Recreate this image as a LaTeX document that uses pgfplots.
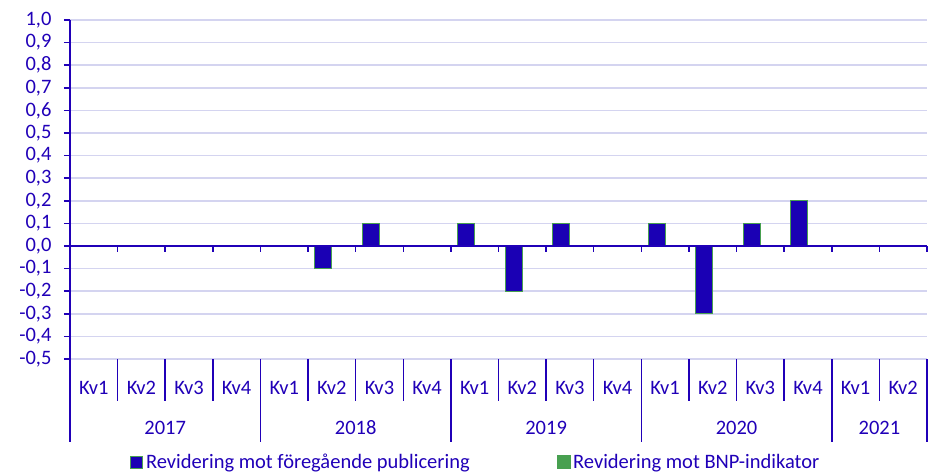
\documentclass[border=0pt]{standalone}
\usepackage{fontspec}
\setmainfont{Carlito}
\usepackage{pgfplots}
\pgfplotsset{compat=1.18}
\definecolor{txtblue}{RGB}{32,0,184}
\definecolor{barblue}{RGB}{26,0,180}
\definecolor{bargreen}{RGB}{72,160,80}
\definecolor{gridc}{RGB}{212,212,240}

\begin{document}
\begin{tikzpicture}[font=\fontsize{20.5}{24}\selectfont, text=txtblue]
\path[use as bounding box] (-70pt,-113pt) rectangle (865pt,359pt);
\begin{axis}[at={(0,0)}, anchor=south west,
  scale only axis, width=857pt, height=339pt,
  xmin=-0.5, xmax=17.5, ymin=-0.5, ymax=1.0,
  axis x line=none, axis y line*=left,
  ytick={-0.5,-0.4,-0.3,-0.2,-0.1,0,0.1,0.2,0.3,0.4,0.5,0.6,0.7,0.8,0.9,1.0},
  ymajorgrids, grid style={gridc, line width=1.5pt},
  y axis line style={txtblue, line width=1.5pt},
  ytick style={txtblue, line width=1.5pt}, tick align=outside, major tick length=6pt,
  yticklabel style={txtblue, xshift=-9pt, /pgf/number format/.cd, use comma, fixed, fixed zerofill, precision=1, assume math mode=true},
  clip=false,
  legend style={draw=none, fill=none, legend columns=2, at={(0.474,-0.304)}, anchor=center,
    /tikz/every even column/.append style={column sep=84pt}, text=txtblue,
    nodes={inner sep=3pt}, cells={anchor=west}},
]
\addplot[ybar, bar width=17pt, bar shift=-8.5pt, fill=barblue, draw=bargreen, line width=1pt,
  legend image code/.code={\fill[barblue, draw=bargreen, line width=1pt] (0pt,-6pt) rectangle (12pt,6pt);}]
  coordinates {(0,0)(1,0)(2,0)(3,0)(4,0)(5,-0.1)(6,0.1)(7,0)(8,0.1)(9,-0.2)(10,0.1)(11,0)
               (12,0.1)(13,-0.3)(14,0.1)(15,0.2)(16,0)(17,0)};
\addlegendentry{Revidering mot föregående publicering}
\addlegendimage{legend image code/.code={\fill[bargreen] (0pt,-6.5pt) rectangle (13pt,6.5pt);}}
\addlegendentry{Revidering mot BNP-indikator}

\draw[txtblue, line width=1.5pt] (axis cs:-0.5,0) -- (axis cs:17.5,0);
\pgfplotsinvokeforeach{0.5,1.5,2.5,3.5,4.5,5.5,6.5,7.5,8.5,9.5,10.5,11.5,12.5,13.5,14.5,15.5,16.5,17.5}{
  \draw[txtblue, line width=1.5pt] (axis cs:#1,0) -- ([yshift=-6pt]axis cs:#1,0);
}
\pgfplotsinvokeforeach{0.5,1.5,2.5,4.5,5.5,6.5,8.5,9.5,10.5,12.5,13.5,14.5,16.5}{
  \draw[txtblue, line width=1.5pt] (axis cs:#1,-0.5) -- ([yshift=-42pt]axis cs:#1,-0.5);
}
\pgfplotsinvokeforeach{-0.5,3.5,7.5,11.5,15.5,17.5}{
  \draw[txtblue, line width=1.5pt] (axis cs:#1,-0.5) -- ([yshift=-83pt]axis cs:#1,-0.5);
}
\pgfplotsinvokeforeach{0,4,8,12,16}{\node[yshift=-29pt] at (axis cs:#1,-0.5) {Kv1};}
\pgfplotsinvokeforeach{1,5,9,13,17}{\node[yshift=-29pt] at (axis cs:#1,-0.5) {Kv2};}
\pgfplotsinvokeforeach{2,6,10,14}{\node[yshift=-29pt] at (axis cs:#1,-0.5) {Kv3};}
\pgfplotsinvokeforeach{3,7,11,15}{\node[yshift=-29pt] at (axis cs:#1,-0.5) {Kv4};}
\node[yshift=-69pt] at (axis cs:1.5,-0.5) {2017};
\node[yshift=-69pt] at (axis cs:5.5,-0.5) {2018};
\node[yshift=-69pt] at (axis cs:9.5,-0.5) {2019};
\node[yshift=-69pt] at (axis cs:13.5,-0.5) {2020};
\node[yshift=-69pt] at (axis cs:16.5,-0.5) {2021};
\end{axis}
\end{tikzpicture}
\end{document}
